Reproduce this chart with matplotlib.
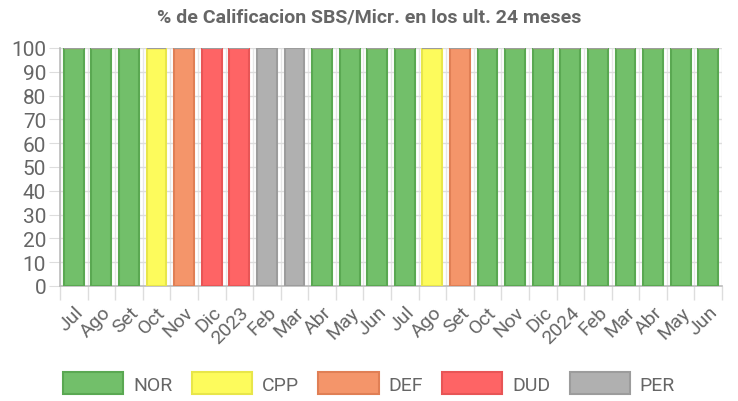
import numpy as np
import matplotlib.pyplot as plt
from matplotlib.patches import Patch

meses = ['Jul', 'Ago', 'Set', 'Oct', 'Nov', 'Dic', '2023', 'Feb', 'Mar', 'Abr', 'May', 'Jun',
         'Jul', 'Ago', 'Set', 'Oct', 'Nov', 'Dic', '2024', 'Feb', 'Mar', 'Abr', 'May', 'Jun']
calif = ['NOR', 'NOR', 'NOR', 'CPP', 'DEF', 'DUD', 'DUD', 'PER', 'PER', 'NOR', 'NOR', 'NOR',
         'NOR', 'CPP', 'DEF', 'NOR', 'NOR', 'NOR', 'NOR', 'NOR', 'NOR', 'NOR', 'NOR', 'NOR']
categorias = ['NOR', 'CPP', 'DEF', 'DUD', 'PER']
relleno = ['#72bf6a', '#fdfb5c', '#f4956a', '#fe6465', '#b0b0b0']
borde = ['#5aa852', '#e8e64a', '#e07f55', '#e85556', '#9c9c9c']

plt.rcParams['font.family'] = ['Roboto', 'DejaVu Sans']

fig = plt.figure(figsize=(7.38, 4.02), dpi=100)
ax = fig.add_axes([60 / 738, 1 - 287 / 402, 662 / 738, 238 / 402])

x = np.arange(len(meses))
abajo = np.zeros(len(meses))
for cat, c, b in zip(categorias, relleno, borde):
    vals = np.array([100 if v == cat else 0 for v in calif])
    ax.bar(x, vals, bottom=abajo, width=0.72, color=c, edgecolor=b, linewidth=1.5, zorder=3)
    abajo += vals

ax.set_xlim(-0.5, len(meses) - 0.5)
ax.set_ylim(0, 100)
ax.set_yticks(range(0, 101, 10))
ax.set_xticks(x)
ax.set_xticklabels(meses, rotation=45, ha='right', rotation_mode='anchor')
ax.set_xticks(np.arange(-0.5, len(meses)), minor=True)
ax.tick_params(axis='x', which='major', length=0, pad=12, labelsize=14, labelcolor='#666666')
ax.tick_params(axis='x', which='minor', length=10, color='#dddddd', width=1)
ax.tick_params(axis='y', length=8, color='#dddddd', labelsize=15, labelcolor='#666666', pad=2)

ax.grid(axis='y', color='#dddddd', linewidth=1, zorder=0)
ax.grid(axis='x', which='minor', color='#e6e6e6', linewidth=1, zorder=0)
for s in ['top', 'right']:
    ax.spines[s].set_visible(False)
for s in ['left', 'bottom']:
    ax.spines[s].set_color('#bbbbbb')
    ax.spines[s].set_linewidth(1.2)

fig.text(0.5, 1 - 18 / 402, '% de Calificacion SBS/Micr. en los ult. 24 meses',
         ha='center', va='center', fontsize=14, fontweight='bold', color='#666666',
         family=['Liberation Sans Narrow', 'Roboto', 'DejaVu Sans'])

handles = [Patch(facecolor=c, edgecolor=b, linewidth=1.5) for c, b in zip(relleno, borde)]
fig.legend(handles, categorias, loc='center', bbox_to_anchor=(0.5, 1 - 384 / 402), ncol=5,
           frameon=False, handlelength=3.1, handleheight=1.3, columnspacing=1.0,
           handletextpad=0.5, fontsize=14, labelcolor='#666666')

fig.savefig('out.png', dpi=100)
